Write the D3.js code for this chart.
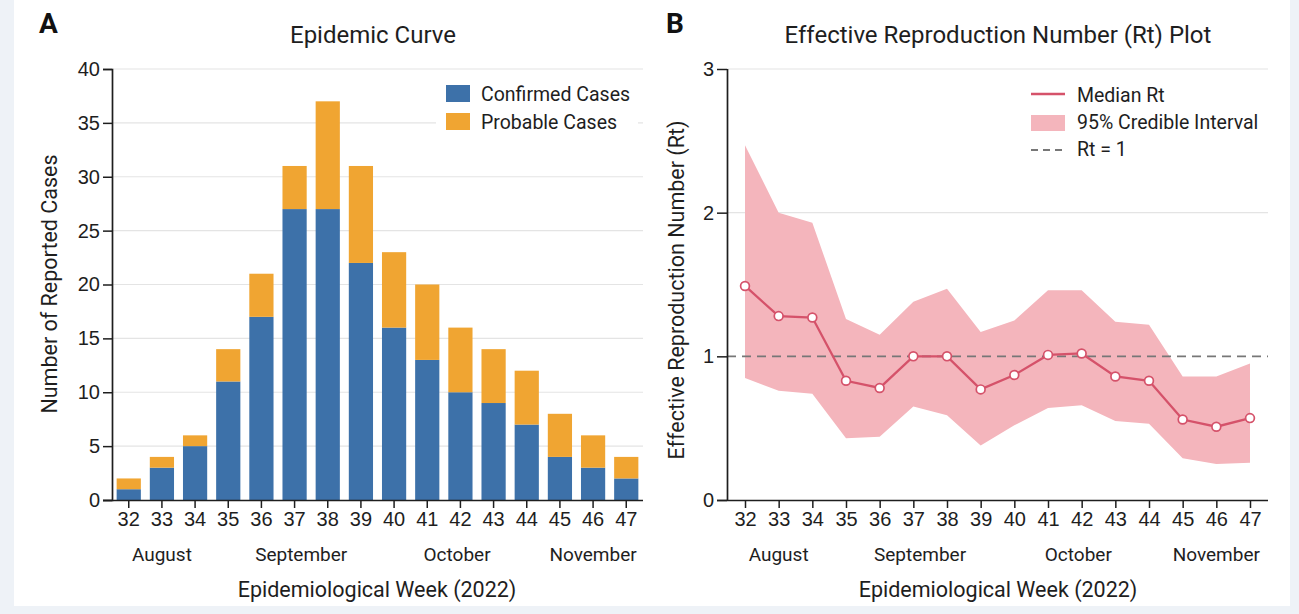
<!DOCTYPE html>
<html>
<head>
<meta charset="utf-8">
<script src="https://cdn.jsdelivr.net/npm/d3@7"></script>
<style>
  html, body { margin: 0; padding: 0; background: #eef2f7; }
  svg { display: block; font-family: Roboto, "Noto Sans", sans-serif; }
</style>
</head>
<body>
<svg id="chart" width="1299" height="614"></svg>
<script>
// ---------- Data ----------
const weeks = [32,33,34,35,36,37,38,39,40,41,42,43,44,45,46,47];
const confirmed = [1,3,5,11,17,27,27,22,16,13,10,9,7,4,3,2];
const probable  = [1,1,1,3,4,4,10,9,7,7,6,5,5,4,3,2];
const casesTicks = [0,5,10,15,20,25,30,35,40];

const rtMedian = [1.49,1.28,1.27,0.83,0.78,1.00,1.00,0.77,0.87,1.01,1.02,0.86,0.83,0.56,0.51,0.57];
const rtUpper  = [2.47,2.00,1.93,1.26,1.15,1.38,1.47,1.17,1.25,1.46,1.46,1.24,1.22,0.86,0.86,0.95];
const rtLower  = [0.85,0.76,0.74,0.43,0.44,0.65,0.59,0.38,0.52,0.64,0.66,0.55,0.53,0.29,0.25,0.26];
const rtTicks = [0,1,2,3];

const months = [
  {label: "August", week: 33},
  {label: "September", week: 37.2},
  {label: "October", week: 41.9},
  {label: "November", week: 46}
];

const seriesNames = ["Confirmed Cases", "Probable Cases"];
const rtLegend = ["Median Rt", "95% Credible Interval", "Rt = 1"];

// ---------- Style ----------
const BLUE = "#3d71a9", ORANGE = "#f0a532";
const PINK_LINE = "#d5526a", PINK_FILL = "#f4b5bc";
const GRID = "#e4e4e4", AXIS = "#1e1e1e", TXT = "#1e1e1e";
const F_TICK = "20px", F_MONTH = "19px", F_AXIS = "21.5px", F_TITLE = "24px", F_LEG = "19.5px";

const svg = d3.select("#chart");
svg.append("rect").attr("x", 14).attr("y", 0).attr("width", 1276).attr("height", 606).attr("fill", "#fff");

// ================= Panel A =================
const A = {left: 112, right: 643, top: 69, bottom: 500};
const xA = d3.scaleBand().domain(weeks).range([A.left, A.right]).paddingInner(0.27).paddingOuter(0.14);
const yA = d3.scaleLinear().domain([0, 40]).range([A.bottom, A.top]);

const gA = svg.append("g");
gA.append("g").selectAll("line").data(casesTicks.filter(d => d > 0)).join("line")
  .attr("x1", A.left).attr("x2", A.right)
  .attr("y1", d => yA(d)).attr("y2", d => yA(d))
  .attr("stroke", GRID).attr("stroke-width", 1.2);

const stackData = weeks.map((w, i) => ({week: w, c: confirmed[i], p: probable[i]}));
const stack = d3.stack().keys(["c", "p"])(stackData);
const colorsA = [BLUE, ORANGE];
gA.append("g").selectAll("g").data(stack).join("g")
  .attr("fill", (d, i) => colorsA[i])
  .selectAll("rect").data(d => d).join("rect")
  .attr("x", d => xA(d.data.week))
  .attr("width", xA.bandwidth())
  .attr("y", d => yA(d[1]))
  .attr("height", d => yA(d[0]) - yA(d[1]));

const yAxisA = gA.append("g").attr("transform", `translate(${A.left},0)`)
  .call(d3.axisLeft(yA).tickValues(casesTicks).tickSize(9).tickPadding(3));
const xAxisA = gA.append("g").attr("transform", `translate(0,${A.bottom})`)
  .call(d3.axisBottom(xA).tickSize(8).tickPadding(6));
[yAxisA, xAxisA].forEach(ax => {
  ax.select(".domain").attr("stroke", AXIS).attr("stroke-width", 1.7);
  ax.selectAll(".tick line").attr("stroke", AXIS).attr("stroke-width", 1.5);
  ax.selectAll(".tick text").attr("fill", TXT).style("font-size", F_TICK);
});
xAxisA.selectAll(".tick text").attr("dy", "0.62em");
xAxisA.select(".domain").attr("d", `M${A.left - 9},0.5H${A.right}`);

const weekCenterA = w => xA(32) + xA.bandwidth() / 2 + (w - 32) * xA.step();
gA.append("g").selectAll("text").data(months).join("text")
  .attr("x", d => weekCenterA(d.week)).attr("y", 555).attr("dy", "0.32em")
  .attr("text-anchor", "middle").attr("fill", TXT).style("font-size", F_MONTH)
  .text(d => d.label);

gA.append("text").attr("x", 373).attr("y", 43).attr("text-anchor", "middle")
  .attr("fill", TXT).style("font-size", F_TITLE).text("Epidemic Curve");
gA.append("text").attr("x", 39).attr("y", 33).attr("fill", "#111")
  .style("font-size", "28px").style("font-weight", "bold").text("A");
gA.append("text").attr("x", 377).attr("y", 589).attr("dy", "0.35em").attr("text-anchor", "middle")
  .attr("fill", TXT).style("font-size", F_AXIS).text("Epidemiological Week (2022)");
gA.append("text").attr("transform", `translate(49,284) rotate(-90)`).attr("dy", "0.35em").attr("text-anchor", "middle")
  .attr("fill", TXT).style("font-size", F_AXIS).text("Number of Reported Cases");

const legA = gA.append("g");
legA.append("rect").attr("x", 436).attr("y", 78).attr("width", 202).attr("height", 60).attr("fill", "#fff");
seriesNames.forEach((name, i) => {
  legA.append("rect").attr("x", 446).attr("y", 85 + i * 28).attr("width", 24).attr("height", 17).attr("fill", colorsA[i]);
  legA.append("text").attr("x", 481).attr("y", 94 + i * 28).attr("dy", "0.35em")
    .attr("fill", TXT).style("font-size", F_LEG).text(name);
});

// ================= Panel B =================
const B = {left: 727, right: 1268, top: 69, bottom: 500};
const xB = d3.scalePoint().domain(weeks).range([745, 1250]);
const yB = d3.scaleLinear().domain([0, 3]).range([B.bottom, B.top]);
const gB = svg.append("g");

gB.append("g").selectAll("line").data(rtTicks.filter(d => d > 1)).join("line")
  .attr("x1", B.left).attr("x2", B.right)
  .attr("y1", d => yB(d)).attr("y2", d => yB(d))
  .attr("stroke", GRID).attr("stroke-width", 1.2);

const rtData = weeks.map((w, i) => ({week: w, m: rtMedian[i], lo: rtLower[i], hi: rtUpper[i]}));
gB.append("path").datum(rtData)
  .attr("fill", PINK_FILL)
  .attr("d", d3.area().x(d => xB(d.week)).y0(d => yB(d.lo)).y1(d => yB(d.hi)));

gB.append("line").attr("x1", B.left).attr("x2", B.right)
  .attr("y1", yB(1)).attr("y2", yB(1))
  .attr("stroke", "#777").attr("stroke-width", 1.8).attr("stroke-dasharray", "9,6");

gB.append("path").datum(rtData)
  .attr("fill", "none").attr("stroke", PINK_LINE).attr("stroke-width", 2.3)
  .attr("d", d3.line().x(d => xB(d.week)).y(d => yB(d.m)));
gB.append("g").selectAll("circle").data(rtData).join("circle")
  .attr("cx", d => xB(d.week)).attr("cy", d => yB(d.m)).attr("r", 4.4)
  .attr("fill", "#fff").attr("stroke", PINK_LINE).attr("stroke-width", 1.7);

const yAxisB = gB.append("g").attr("transform", `translate(${B.left},0)`)
  .call(d3.axisLeft(yB).tickValues(rtTicks).tickFormat(d3.format("d")).tickSize(10).tickPadding(3));
const xAxisB = gB.append("g").attr("transform", `translate(0,${B.bottom})`)
  .call(d3.axisBottom(xB).tickSize(8).tickPadding(6));
[yAxisB, xAxisB].forEach(ax => {
  ax.select(".domain").attr("stroke", AXIS).attr("stroke-width", 1.7);
  ax.selectAll(".tick line").attr("stroke", AXIS).attr("stroke-width", 1.5);
  ax.selectAll(".tick text").attr("fill", TXT).style("font-size", F_TICK);
});
xAxisB.selectAll(".tick text").attr("dy", "0.62em");
yAxisB.select(".domain").attr("d", `M0.5,${B.bottom}V${B.top}`);
xAxisB.select(".domain").attr("d", `M${B.left - 10},0.5H${B.right}`);

const weekCenterB = w => xB(32) + (w - 32) * xB.step();
gB.append("g").selectAll("text").data(months).join("text")
  .attr("x", d => weekCenterB(d.week)).attr("y", 555).attr("dy", "0.32em")
  .attr("text-anchor", "middle").attr("fill", TXT).style("font-size", F_MONTH)
  .text(d => d.label);

gB.append("text").attr("x", 998).attr("y", 43).attr("text-anchor", "middle")
  .attr("fill", TXT).style("font-size", F_TITLE).text("Effective Reproduction Number (Rt) Plot");
gB.append("text").attr("x", 666).attr("y", 33).attr("fill", "#111")
  .style("font-size", "28px").style("font-weight", "bold").text("B");
gB.append("text").attr("x", 998).attr("y", 589).attr("dy", "0.35em").attr("text-anchor", "middle")
  .attr("fill", TXT).style("font-size", F_AXIS).text("Epidemiological Week (2022)");
gB.append("text").attr("transform", `translate(676,290) rotate(-90)`).attr("dy", "0.35em").attr("text-anchor", "middle")
  .attr("fill", TXT).style("font-size", "21.5px").text("Effective Reproduction Number (Rt)");

const legB = gB.append("g");
legB.append("line").attr("x1", 1031).attr("x2", 1065).attr("y1", 94).attr("y2", 94)
  .attr("stroke", PINK_LINE).attr("stroke-width", 2.6);
legB.append("rect").attr("x", 1031).attr("y", 115).attr("width", 34).attr("height", 16)
  .attr("fill", PINK_FILL);
legB.append("line").attr("x1", 1031).attr("x2", 1065).attr("y1", 150).attr("y2", 150)
  .attr("stroke", "#777").attr("stroke-width", 1.8).attr("stroke-dasharray", "7,5");
rtLegend.forEach((name, i) => {
  legB.append("text").attr("x", 1077).attr("y", 95 + i * 27).attr("dy", "0.35em")
    .attr("fill", TXT).style("font-size", F_LEG).text(name);
});
</script>
</body>
</html>
